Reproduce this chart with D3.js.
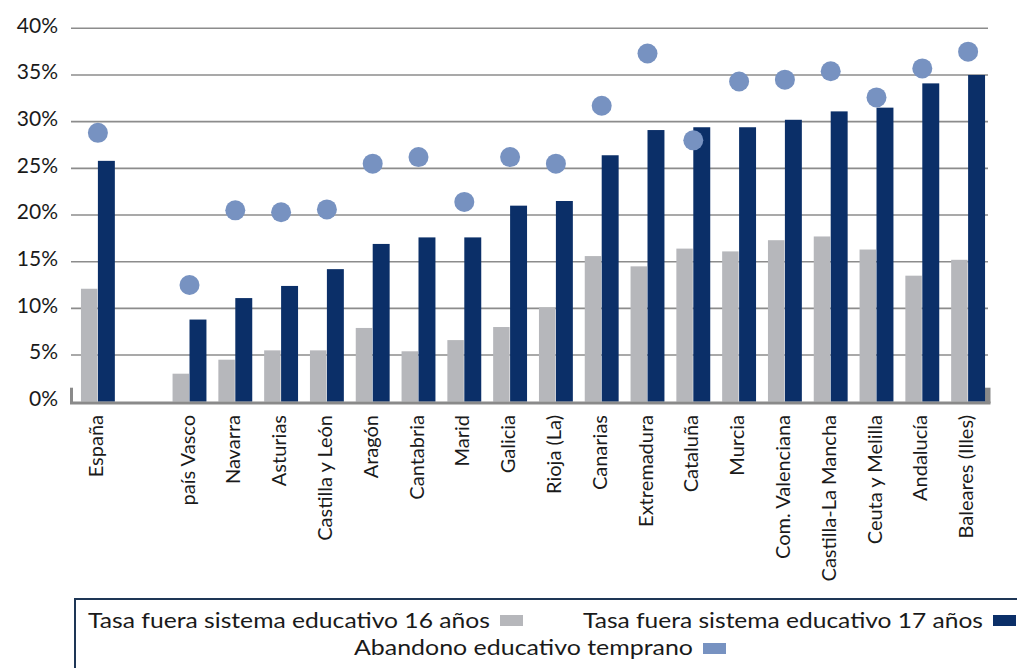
<!DOCTYPE html>
<html>
<head>
<meta charset="utf-8">
<script src="https://cdn.jsdelivr.net/npm/d3@7"></script>
<style>
  html, body { margin: 0; padding: 0; background: #ffffff; }
  svg { display: block; }
  text { font-family: Lato, "Open Sans", sans-serif; fill: #1a1a1a; }
</style>
</head>
<body>
<svg id="chart" width="1017" height="668"></svg>
<script>
// ---- data ----
const categories = ["España", "", "país Vasco", "Navarra", "Asturias", "Castilla y León", "Aragón",
  "Cantabria", "Marid", "Galicia", "Rioja (La)", "Canarias", "Extremadura", "Cataluña", "Murcia",
  "Com. Valenciana", "Castilla-La Mancha", "Ceuta y Melilla", "Andalucía", "Baleares (Illes)"];
const tasa16 = [12.1, null, 3.0, 4.5, 5.5, 5.5, 7.9, 5.4, 6.6, 8.0, 10.1, 15.6, 14.5, 16.4, 16.1,
  17.3, 17.7, 16.3, 13.5, 15.2];
const tasa17 = [25.8, null, 8.8, 11.1, 12.4, 14.2, 16.9, 17.6, 17.6, 21.0, 21.5, 26.4, 29.1, 29.4,
  29.4, 30.2, 31.1, 31.5, 34.1, 35.0];
const abandono = [28.8, null, 12.5, 20.5, 20.3, 20.6, 25.5, 26.2, 21.4, 26.2, 25.5, 31.7, 37.3,
  28.0, 34.3, 34.5, 35.4, 32.6, 35.7, 37.5];
const yTicks = [0, 5, 10, 15, 20, 25, 30, 35, 40];
const legendLabels = ["Tasa fuera sistema educativo 16 años", "Tasa fuera sistema educativo 17 años",
  "Abandono educativo temprano"];

const colors = { t16: "#b6b7bb", t17: "#0b2f68", ab: "#7792c1", grid: "#8c8c8c", axis: "#8a8a8a" };

const svg = d3.select("#chart");

const x = d3.scaleBand().domain(d3.range(categories.length)).range([75, 991])
  .paddingInner(0.26).paddingOuter(0.13);
const xs = d3.scaleBand().domain(["t16", "t17"]).range([0, x.bandwidth()]).padding(0);
const y = d3.scaleLinear().domain([0, 40]).range([401.7, 28.3]);

// gridlines
svg.append("g").selectAll("line").data(yTicks.filter(d => d > 0)).join("line")
  .attr("x1", 71).attr("x2", 988)
  .attr("y1", d => y(d)).attr("y2", d => y(d))
  .attr("stroke", colors.grid).attr("stroke-width", 1.6);

// y tick labels
svg.append("g").selectAll("text").data(yTicks).join("text")
  .attr("x", 58).attr("y", d => y(d) - 3)
  .attr("dy", "0.35em")
  .attr("text-anchor", "end")
  .style("font-size", "21px")
  .text(d => d + "%");

// floor stubs
svg.append("rect").attr("x", 70).attr("y", y(1.5)).attr("width", 3).attr("height", y(0) - y(1.5) + 1.5)
  .attr("fill", colors.axis);
svg.append("rect").attr("x", 985).attr("y", y(1.5)).attr("width", 5.5).attr("height", y(0) - y(1.5) + 1.5)
  .attr("fill", colors.axis);

const idx = d3.range(categories.length);

// bars 16
svg.append("g").selectAll("rect").data(idx.filter(i => tasa16[i] != null)).join("rect")
  .attr("x", i => x(i) + xs("t16"))
  .attr("width", xs.bandwidth() - 0.5)
  .attr("y", i => y(tasa16[i]))
  .attr("height", i => y(0) - y(tasa16[i]))
  .attr("fill", colors.t16);

// bars 17
svg.append("g").selectAll("rect").data(idx.filter(i => tasa17[i] != null)).join("rect")
  .attr("x", i => x(i) + xs("t17"))
  .attr("width", xs.bandwidth())
  .attr("y", i => y(tasa17[i]))
  .attr("height", i => y(0) - y(tasa17[i]))
  .attr("fill", colors.t17);

// baseline
svg.append("line").attr("x1", 70).attr("x2", 990.5)
  .attr("y1", y(0) + 1.3).attr("y2", y(0) + 1.3)
  .attr("stroke", colors.axis).attr("stroke-width", 3);

// dots
svg.append("g").selectAll("circle").data(idx.filter(i => abandono[i] != null)).join("circle")
  .attr("cx", i => x(i) + x.bandwidth() / 2)
  .attr("cy", i => y(abandono[i]))
  .attr("r", 10)
  .attr("fill", colors.ab);

// x labels
svg.append("g").selectAll("text").data(idx.filter(i => categories[i] !== "")).join("text")
  .attr("transform", i => `translate(${x(i) + x.bandwidth() / 2 - 2},415) rotate(-90)`)
  .attr("text-anchor", "end")
  .attr("dy", "0.35em")
  .style("font-size", "20px")
  .text(i => categories[i]);

// legend
const lg = svg.append("g");
lg.append("rect").attr("x", 75).attr("y", 599).attr("width", 1000).attr("height", 120)
  .attr("fill", "none").attr("stroke", "#1e3656").attr("stroke-width", 2);

const legendItems = [
  { label: legendLabels[0], color: colors.t16, sx: 500, sy: 615, base: 628, len: 402 },
  { label: legendLabels[1], color: colors.t17, sx: 993, sy: 615, base: 628, len: 400 },
  { label: legendLabels[2], color: colors.ab, sx: 703, sy: 643, base: 655, len: 339 }
];
lg.selectAll("rect.sw").data(legendItems).join("rect").attr("class", "sw")
  .attr("x", d => d.sx).attr("y", d => d.sy).attr("width", 23).attr("height", 11)
  .attr("fill", d => d.color);
lg.selectAll("text").data(legendItems).join("text")
  .attr("x", d => d.sx - 10).attr("y", d => d.base)
  .attr("text-anchor", "end")
  .attr("textLength", d => d.len).attr("lengthAdjust", "spacingAndGlyphs")
  .style("font-size", "22px")
  .text(d => d.label);
</script>
</body>
</html>
